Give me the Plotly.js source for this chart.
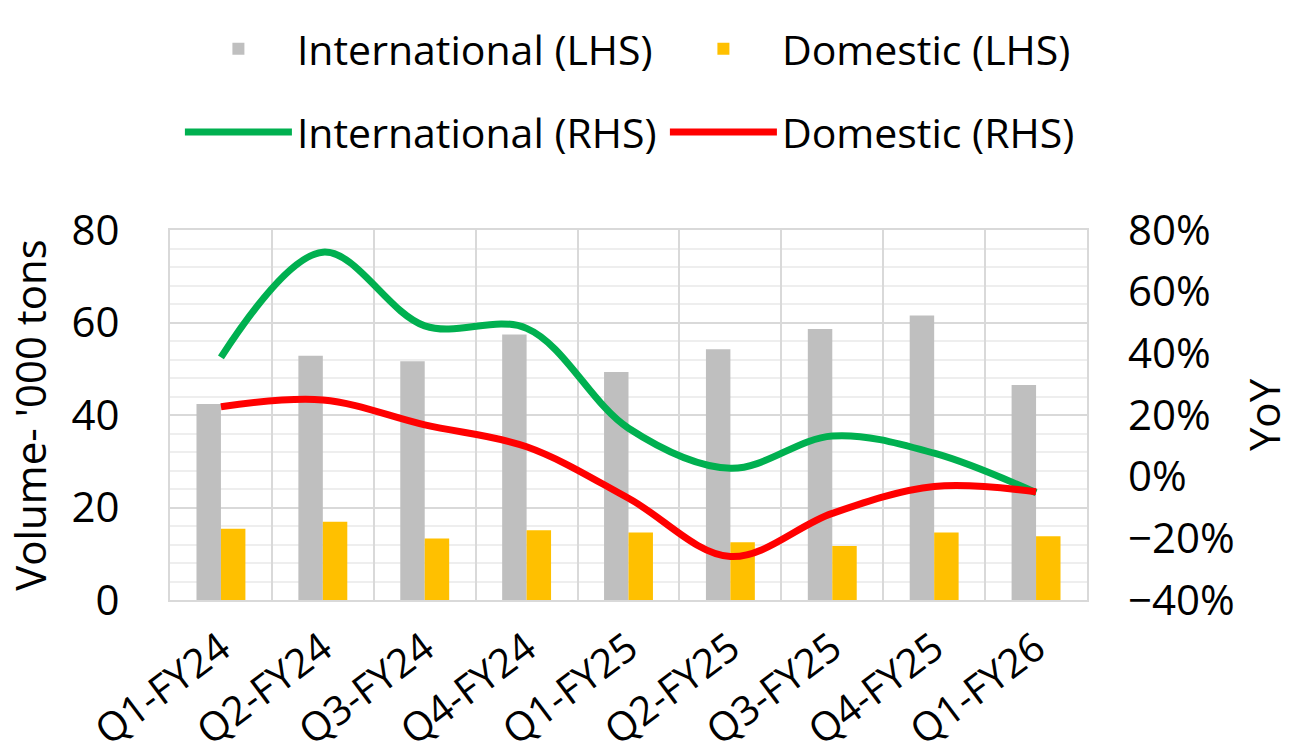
<!DOCTYPE html>
<html>
<head>
<meta charset="utf-8">
<script src="https://cdn.plot.ly/plotly-3.0.1.min.js"></script>
<style>
html, body { margin: 0; padding: 0; background: #ffffff; }
#chart { width: 1292px; height: 756px; }
</style>
</head>
<body>
<div id="chart"></div>
<script>
// ---- data ----
const quarters = ['Q1-FY24', 'Q2-FY24', 'Q3-FY24', 'Q4-FY24', 'Q1-FY25', 'Q2-FY25', 'Q3-FY25', 'Q4-FY25', 'Q1-FY26'];
const intlVolume = [42.4, 52.8, 51.6, 57.4, 49.3, 54.2, 58.6, 61.5, 46.5];   // '000 tons (LHS)
const domVolume  = [15.4, 16.9, 13.3, 15.1, 14.6, 12.5, 11.7, 14.6, 13.8];   // '000 tons (LHS)
const intlYoY    = [38.7, 72.8, 48.9, 48.1, 15.7, 2.7, 13.2, 7.6, -5.2];     // % (RHS)
const domYoY     = [22.7, 24.9, 16.8, 9.7, -7.0, -25.9, -11.9, -3.2, -4.9];  // % (RHS)

const FONT = 'Open Sans, Noto Sans, sans-serif';
const FS = 42;
const LFS = 41;
const XFS = 40;

const traces = [
  {
    type: 'bar', name: 'International (LHS)', x: quarters, y: intlVolume,
    marker: { color: '#bfbfbf' }, legend: 'legend', hoverinfo: 'x+y'
  },
  {
    type: 'bar', name: 'Domestic (LHS)', x: quarters, y: domVolume,
    marker: { color: '#ffc000' }, legend: 'legend', hoverinfo: 'x+y'
  },
  {
    type: 'scatter', mode: 'lines', name: 'International (RHS)', x: quarters, y: intlYoY,
    yaxis: 'y2', line: { color: '#00b050', width: 7, shape: 'spline', smoothing: 1 },
    legend: 'legend2'
  },
  {
    type: 'scatter', mode: 'lines', name: 'Domestic (RHS)', x: quarters, y: domYoY,
    yaxis: 'y2', line: { color: '#ff0000', width: 7, shape: 'spline', smoothing: 1 },
    legend: 'legend2'
  }
];

const legendCommon = {
  orientation: 'h', xanchor: 'left', yanchor: 'middle', x: -0.0001,
  indentation: 10,
  font: { family: FONT, size: LFS, color: '#000' },
  itemwidth: 107, entrywidth: 353, bgcolor: 'rgba(0,0,0,0)', itemclick: false
};

const layout = {
  width: 1292, height: 756,
  margin: { l: 170, r: 205, t: 230, b: 156, pad: 0, autoexpand: false },
  paper_bgcolor: '#ffffff', plot_bgcolor: '#ffffff',
  font: { family: FONT, size: FS, color: '#000' },
  barmode: 'group', bargap: 0.52, bargroupgap: 0,
  showlegend: true,
  legend: Object.assign({}, legendCommon, { y: 1.489 }),
  legend2: Object.assign({}, legendCommon, { y: 1.264 }),
  xaxis: {
    type: 'category', categoryorder: 'array', categoryarray: quarters,
    range: [-0.5, quarters.length - 0.5],
    tickson: 'boundaries', ticks: '', tickangle: -37,
    showgrid: true, gridcolor: '#d9d9d9', gridwidth: 2,
    showline: true, linecolor: '#d9d9d9', linewidth: 2, mirror: true,
    zeroline: false, automargin: false, ticklabelstandoff: 7,
    tickfont: { family: FONT, size: XFS, color: '#000' }
  },
  xaxis2: {
    overlaying: 'x', anchor: 'y', type: 'linear',
    range: [-0.5, quarters.length - 0.5], tick0: 0, dtick: 1,
    showgrid: true, gridcolor: '#ececec', gridwidth: 2,
    showticklabels: false, ticks: '', zeroline: false, showline: false, automargin: false
  },
  yaxis: {
    range: [0, 80], tick0: 0, dtick: 20, ticks: '',
    showgrid: true, gridcolor: '#d9d9d9', gridwidth: 2,
    minor: { dtick: 4, showgrid: true, gridcolor: '#eeeeee', gridwidth: 2 },
    showline: true, linecolor: '#d9d9d9', linewidth: 2, mirror: true,
    zeroline: false, automargin: false, ticklabelstandoff: 40,
    tickfont: { family: FONT, size: FS, color: '#000' },
    title: { text: "Volume- '000 tons", standoff: 12, font: { family: FONT, size: FS, color: '#000' } }
  },
  yaxis2: {
    overlaying: 'y', side: 'right', range: [-40, 80], tick0: -40, dtick: 20,
    ticksuffix: '%', ticks: '', showgrid: false, zeroline: false, showline: false,
    automargin: false, ticklabelstandoff: 40,
    tickfont: { family: FONT, size: FS, color: '#000' },
    title: { text: 'YoY', standoff: 20, font: { family: FONT, size: FS, color: '#000' } }
  }
};

Plotly.newPlot('chart', traces, layout, { displayModeBar: false, responsive: false, staticPlot: true });
</script>
</body>
</html>
